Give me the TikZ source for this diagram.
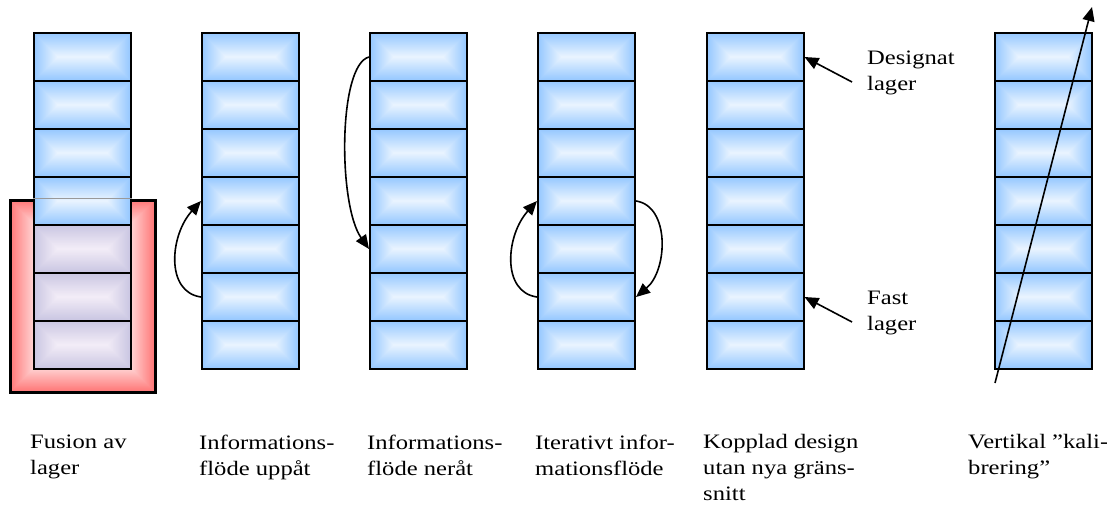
\documentclass[tikz,border=0pt]{standalone}
\usepackage{fontspec}
\setmainfont{Liberation Serif}[FakeStretch=1.2]
\usetikzlibrary{arrows.meta}

\definecolor{bE}{RGB}{150,200,255}
\definecolor{bC}{RGB}{236,245,255}
\definecolor{lE}{RGB}{202,198,226}
\definecolor{lC}{RGB}{244,238,248}
\definecolor{rE}{RGB}{255,120,120}
\definecolor{rC}{RGB}{255,214,214}

\tikzset{
  layerfill/.style 2 args={path picture={
    \foreach \i in {0,...,24}{
      \pgfmathtruncatemacro\p{100*\i/24}
      \fill[#2!\p!#1] ([shift={(\i*1pt,\i*1pt)}]path picture bounding box.south west)
        rectangle ([shift={(-\i*1pt,-\i*1pt)}]path picture bounding box.north east);
    }}},
  layerbox/.style={draw=black, line width=2pt, minimum width=97pt, minimum height=48pt,
    inner sep=0pt, layerfill={bE}{bC}},
  fusedbox/.style={layerbox, layerfill={lE}{lC}},
  fusionframe/.style={draw=black, line width=3pt, minimum width=145pt, minimum height=192pt,
    inner sep=0pt, layerfill={rE}{rC}},
  conn/.style={line width=1.6pt, -{Triangle[length=14pt,width=12pt]}},
  lbl/.style={anchor=north west, inner sep=0pt, align=left,
    font=\fontsize{20.5}{26}\selectfont},
}

\begin{document}
\begin{tikzpicture}[x=1pt,y=-1pt]
\useasboundingbox (0,0) rectangle (1107,506);

% fusion frame (behind stack 1)
\node[fusionframe] (fus) at (82.5,296) {};

% stacks
\foreach \j in {1,...,4}{
  \node[layerbox] (s1-\j) at (82,{57+48*(\j-1)}) {};
}
\foreach \j in {5,...,7}{
  \node[fusedbox] (s1-\j) at (82,{57+48*(\j-1)}) {};
}
\foreach \s/\x in {2/250.5,3/418.5,4/586.5,5/755,6/1043}{
  \foreach \j in {1,...,7}{
    \node[layerbox] (s\s-\j) at (\x,{57+48*(\j-1)}) {};
  }
}
% frame edge seen through layer 4
\draw[black!40, line width=1pt] (s1-4.west |- fus.north) -- (s1-4.east |- fus.north);

% connectors
\draw[conn] (s2-6.west) .. controls (165,292) and (170,235) .. (s2-4.west);
\draw[conn] (s3-1.west) .. controls (338,65) and (338,205) .. (s3-5.west);
\draw[conn] (s4-6.west) .. controls (501,292) and (506,235) .. (s4-4.west);
\draw[conn] (s4-4.east) .. controls (670,206) and (668,270) .. (s4-6.east);

\coordinate (d0) at (852,82);
\coordinate (f0) at (852,322);
\draw[conn] (d0) -- (s5-1.east);
\draw[conn] (f0) -- (s5-6.east);

\coordinate (v0) at (995,383);
\coordinate (v1) at (1092,7);
\draw[conn] (v0) -- (v1);

% labels
\node[lbl] (tD) at (867,50.5) {Designat\\lager};
\node[lbl] (tF) at (867,290.5) {Fast\\lager};

\node[lbl] (t1) at (30,434.5) {Fusion av\\lager};
\node[lbl] (t2) at (199,434.5) {Informations-\\flöde uppåt};
\node[lbl] (t3) at (367,434.5) {Informations-\\flöde neråt};
\node[lbl] (t4) at (535,434.5) {Iterativt infor-\\mationsflöde};
\node[lbl] (t5) at (703,434.5) {Kopplad design\\utan nya gräns-\\snitt};
\node[lbl] (t6) at (968,434.5) {Vertikal ”kali-\\brering”};
\end{tikzpicture}
\end{document}
